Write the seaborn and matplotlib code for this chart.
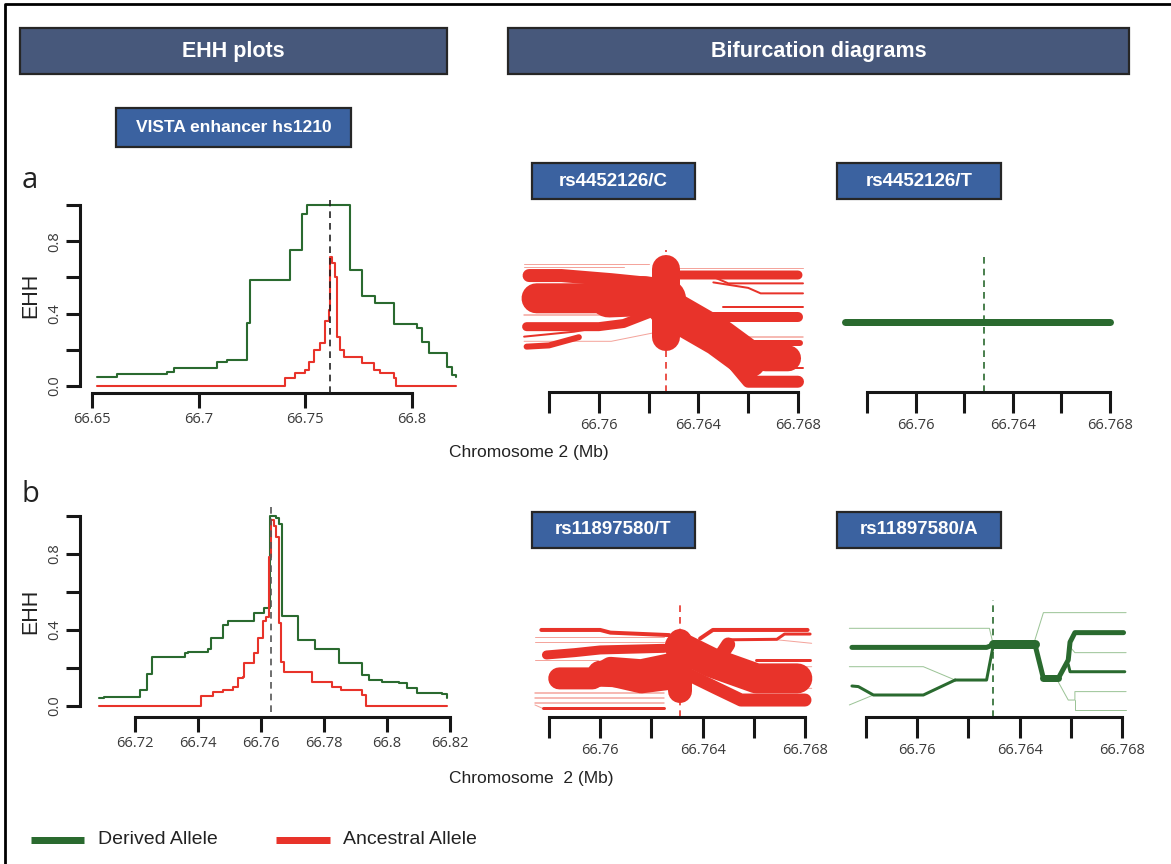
import numpy as np
import pandas as pd
import matplotlib
matplotlib.use("Agg")
import matplotlib.pyplot as plt
import seaborn as sns
from matplotlib.patches import Rectangle
from matplotlib.lines import Line2D

# ---------------- data ----------------
# EHH panel a (position Mb, EHH value after that position)
ehh_a_der_pos = [66.6523, 66.6617, 66.6852, 66.6883, 66.7086, 66.7133, 66.7227, 66.7242, 66.7430,
                 66.7484, 66.7508, 66.7708, 66.7766, 66.7828, 66.7914, 66.8023, 66.8047, 66.8078,
                 66.8164, 66.8188, 66.8208]
ehh_a_der = [0.048, 0.066, 0.079, 0.10, 0.134, 0.144, 0.35, 0.585, 0.75, 0.95, 1.0, 0.64, 0.50,
             0.457, 0.34, 0.32, 0.245, 0.18, 0.107, 0.06, 0.048]
ehh_a_anc_pos = [66.6523, 66.7406, 66.7453, 66.7500, 66.7516, 66.7539, 66.7570, 66.7594, 66.7609,
                 66.7617, 66.7625, 66.7638, 66.7648, 66.7661, 66.7680, 66.7766, 66.7820, 66.7852,
                 66.7914, 66.7927, 66.8208]
ehh_a_anc = [0.0, 0.042, 0.07, 0.088, 0.135, 0.20, 0.236, 0.36, 0.42, 0.71, 0.68, 0.60, 0.27, 0.20,
             0.16, 0.125, 0.088, 0.074, 0.042, 0.0, 0.0]
core_a = 66.7617

# EHH panel b
ehh_b_der_pos = [66.7087, 66.7100, 66.7216, 66.7237, 66.7253, 66.7358, 66.7368, 66.7432, 66.7442,
                 66.7479, 66.7495, 66.7579, 66.7611, 66.7628, 66.7647, 66.7658, 66.7666, 66.7718,
                 66.7772, 66.7847, 66.7921, 66.7942, 66.7984, 66.8037, 66.8063, 66.8095, 66.8174,
                 66.8189]
ehh_b_der = [0.04, 0.049, 0.084, 0.17, 0.26, 0.28, 0.286, 0.30, 0.356, 0.426, 0.45, 0.49, 0.514,
             1.0, 0.99, 0.96, 0.474, 0.347, 0.298, 0.225, 0.163, 0.137, 0.128, 0.12, 0.093, 0.067,
             0.063, 0.04]
ehh_b_anc_pos = [66.7087, 66.7411, 66.7447, 66.7479, 66.7511, 66.7526, 66.7542, 66.7547, 66.7579,
                 66.7589, 66.7605, 66.7616, 66.7624, 66.7632, 66.7642, 66.7649, 66.7658, 66.7663,
                 66.7674, 66.7763, 66.7826, 66.7853, 66.7921, 66.7932, 66.8189]
ehh_b_anc = [0.0, 0.053, 0.075, 0.084, 0.10, 0.146, 0.154, 0.225, 0.277, 0.356, 0.45, 0.47, 0.786,
             0.98, 0.945, 0.89, 0.435, 0.233, 0.18, 0.128, 0.10, 0.084, 0.058, 0.0, 0.0]
core_b = 66.7632

ehh_a_xticks = [66.65, 66.70, 66.75, 66.80]
ehh_a_xlabels = ["66.65", "66.7", "66.75", "66.8"]
ehh_b_xticks = [66.72, 66.74, 66.76, 66.78, 66.80, 66.82]
ehh_b_xlabels = ["66.72", "66.74", "66.76", "66.78", "66.8", "66.82"]
ehh_yticks = [0.0, 0.2, 0.4, 0.6, 0.8, 1.0]
ehh_ylabels = ["0.0", "", "0.4", "", "0.8", ""]
bif_xticks = [66.758, 66.760, 66.762, 66.764, 66.766, 66.768]
bif_xlabels = ["", "66.76", "", "66.764", "", "66.768"]

# Bifurcation diagram rs4452126/C (branch positions Mb, vertical rank, haplotype-count width)
coreC = 66.7627
bifC_x = [[coreC, coreC],
          [coreC, 66.7640, 66.7655, 66.7667, 66.7676],
          [coreC, 66.7645, 66.7660, 66.7680],
          [66.7640, 66.7646, 66.7680],
          [coreC, 66.7632, 66.7680],
          [66.7632, 66.7646, 66.7652, 66.7682],
          [66.7646, 66.7660, 66.7665, 66.7682],
          [coreC, 66.7682],
          [66.7655, 66.7681],
          [66.7665, 66.7682],
          [66.7650, 66.7682],
          [66.7660, 66.7682],
          [coreC, 66.7615, 66.7600, 66.7575],
          [coreC, 66.7605, 66.7585, 66.7572],
          [coreC, 66.7610, 66.7600, 66.7571],
          [66.7600, 66.7590, 66.7570],
          [66.7592, 66.7580, 66.7571],
          [66.7570, 66.7620],
          [66.7570, 66.7610],
          [66.7570, 66.7605],
          [coreC, 66.7605, 66.7570],
          [66.7604, 66.7618, coreC],
          [coreC, 66.7648, 66.7660]]
bifC_y = [[0.40, 0.90],
          [0.64, 0.50, 0.32, 0.246, 0.246],
          [0.60, 0.40, 0.075, 0.075],
          [0.55, 0.55, 0.55],
          [0.80, 0.854, 0.854],
          [0.84, 0.84, 0.793, 0.793],
          [0.80, 0.76, 0.72, 0.72],
          [0.905, 0.905],
          [0.355, 0.355],
          [0.173, 0.173],
          [0.62, 0.62],
          [0.40, 0.40],
          [0.66, 0.69, 0.684, 0.684],
          [0.78, 0.82, 0.85, 0.85],
          [0.62, 0.50, 0.477, 0.477],
          [0.47, 0.44, 0.404],
          [0.40, 0.34, 0.331],
          [0.934, 0.934],
          [0.915, 0.915],
          [0.56, 0.56],
          [0.45, 0.37, 0.37],
          [0.69, 0.70, 0.68],
          [0.62, 0.40, 0.24]]
bifC_n = [28, 26, 12, 10, 9, 2, 2, 1, 6, 2, 2, 1.5, 30, 13, 9, 2, 6, 1, 1, 1.5, 1, 40, 38]

# Bifurcation diagram rs4452126/T
coreT1 = 66.7628
bifT1_x = [[66.7571, 66.7680]]
bifT1_y = [[0.51, 0.51]]
bifT1_n = [7]

# Bifurcation diagram rs11897580/T
coreT2 = 66.7631
bifT2_x = [[coreT2, coreT2],
           [66.7577, 66.7600, 66.7604, 66.7627],
           [66.75745, 66.7625],
           [66.75745, 66.7625],
           [66.7579, 66.7590, 66.7600, 66.7625],
           [66.75745, 66.7599],
           [66.7584, 66.7597, 66.7604, 66.7616, 66.7627],
           [66.7604, 66.7616, 66.7627],
           [66.75745, 66.7625],
           [66.75745, 66.7625],
           [66.75745, 66.7625],
           [66.75775, 66.7625],
           [66.75745, 66.75775],
           [coreT2, 66.7643, 66.7652, 66.7661, 66.7677],
           [coreT2, 66.7645, 66.7655, 66.7661, 66.7680],
           [66.7647, 66.7650],
           [66.7639, 66.7644, 66.7681],
           [66.7650, 66.7669, 66.7672, 66.7682],
           [66.7669, 66.76826],
           [66.7661, 66.7682],
           [66.7652, 66.7661, 66.76826],
           [66.7652, 66.7661, 66.76826],
           [66.7600, 66.7614, 66.7627]]
bifT2_y = [[0.22, 0.65],
           [0.744, 0.744, 0.721, 0.70],
           [0.687, 0.687],
           [0.644, 0.644],
           [0.53, 0.55, 0.573, 0.587],
           [0.487, 0.487],
           [0.33, 0.33, 0.42, 0.40, 0.45],
           [0.33, 0.27, 0.30],
           [0.202, 0.202],
           [0.160, 0.160],
           [0.117, 0.117],
           [0.074, 0.074],
           [0.103, 0.074],
           [0.60, 0.47, 0.40, 0.33, 0.33],
           [0.40, 0.25, 0.145, 0.145, 0.145],
           [0.52, 0.62],
           [0.67, 0.744, 0.744],
           [0.66, 0.664, 0.709, 0.709],
           [0.66, 0.63],
           [0.487, 0.487],
           [0.40, 0.43, 0.43],
           [0.30, 0.245, 0.245],
           [0.37, 0.36, 0.40]]
bifT2_n = [24, 4, 1, 1, 9, 1, 22, 16, 1.5, 1.5, 1.5, 3, 1, 30, 13, 14, 4, 3, 1, 3, 1, 1, 26]

# Bifurcation diagram rs11897580/A
coreA = 66.76296
bifA_x = [[66.75745, 66.76271, 66.76296],
          [66.75735, 66.76282, 66.76296],
          [66.75735, 66.76024, 66.76148],
          [66.76148, 66.76271, 66.76296],
          [66.76148, 66.76024, 66.75829, 66.7577, 66.75745],
          [66.75829, 66.75735],
          [66.76296, 66.7646],
          [66.7646, 66.76493, 66.76551, 66.7659, 66.76597, 66.76616, 66.76806],
          [66.76493, 66.76551],
          [66.7659, 66.76597, 66.76811],
          [66.7646, 66.76493, 66.76816],
          [66.76597, 66.76616, 66.76816],
          [66.76551, 66.7659, 66.76616, 66.76616, 66.76816],
          [66.76616, 66.76616, 66.76816]]
bifA_y = [[0.595, 0.595, 0.615],
          [0.758, 0.758, 0.63],
          [0.43, 0.43, 0.316],
          [0.316, 0.316, 0.60],
          [0.316, 0.188, 0.188, 0.26, 0.265],
          [0.188, 0.103],
          [0.62, 0.62],
          [0.62, 0.33, 0.33, 0.487, 0.64, 0.721, 0.721],
          [0.33, 0.33],
          [0.45, 0.387, 0.387],
          [0.66, 0.892, 0.892],
          [0.60, 0.55, 0.55],
          [0.30, 0.145, 0.145, 0.217, 0.217],
          [0.145, 0.06, 0.06]]
bifA_n = [5, 1, 1, 3, 3, 1, 9, 5, 7, 3, 1, 1, 1, 1]

legend_labels = ["Derived Allele", "Ancestral Allele"]

# ---------------- style ----------------
sns.set_theme(style="ticks")
plt.rcParams["font.family"] = ["Liberation Sans", "DejaVu Sans"]

RED = "#e8332a"
RED_THIN = "#f4a49c"
GREEN = "#2a6a2f"
GREEN_THIN = "#9cc497"
AXC = "#161616"
TICKC = "#3a3a3a"
NUMFONT = ["Open Sans", "DejaVu Sans"]
HEADFONT = ["Liberation Sans", "DejaVu Sans"]

W, H = 1171, 864
PT = 0.72
fig = plt.figure(figsize=(W / 100, H / 100), dpi=100)
fig.patch.set_facecolor("white")


def px_axes(left, top, right, bottom):
    return fig.add_axes([left / W, 1 - bottom / H, (right - left) / W, (bottom - top) / H])


def fx(px):
    return px / W


def fy(py):
    return 1 - py / H


# border
fig.add_artist(Line2D([fx(5), fx(5), fx(1171)], [fy(864), fy(4), fy(4)], color="black", lw=2.0))

# header boxes
def box(x0, y0, x1, y1, text, face, size):
    fig.add_artist(Rectangle((fx(x0), fy(y1)), (x1 - x0) / W, (y1 - y0) / H,
                             transform=fig.transFigure, facecolor=face, edgecolor="#262626", lw=1.6))
    fig.text(fx((x0 + x1) / 2), fy((y0 + y1) / 2), text, ha="center", va="center",
             color="white", fontweight="bold", fontsize=size, family=HEADFONT)


box(20, 28, 447, 74, "EHH plots", "#47587b", 15.5)
box(508, 28, 1129, 74, "Bifurcation diagrams", "#47587b", 15.5)
box(116, 108, 351, 147, "VISTA enhancer hs1210", "#3b62a0", 12.5)
box(532, 163, 695, 199, "rs4452126/C", "#3b62a0", 13.5)
box(837, 163, 1001, 199, "rs4452126/T", "#3b62a0", 13.5)
box(532, 512, 695, 548, "rs11897580/T", "#3b62a0", 13.5)
box(837, 512, 1001, 548, "rs11897580/A", "#3b62a0", 13.5)

fig.text(fx(30), fy(180), "a", ha="center", va="center", fontsize=21, family=NUMFONT, color="#222")
fig.text(fx(30), fy(495), "b", ha="center", va="center", fontsize=21, family=NUMFONT, color="#222")


# ---------------- EHH plots ----------------
def style_ehh(ax, xticks, xlabels, left_out, bottom_out, ylab_x):
    for s in ["top", "right"]:
        ax.spines[s].set_visible(False)
    ax.spines["left"].set_position(("outward", left_out * PT))
    ax.spines["bottom"].set_position(("outward", bottom_out * PT))
    ax.spines["left"].set_bounds(0, 1)
    ax.spines["bottom"].set_bounds(xticks[0], xticks[-1])
    for s in ["left", "bottom"]:
        ax.spines[s].set_linewidth(2.2)
        ax.spines[s].set_color(AXC)
        ax.spines[s].set_capstyle("projecting")
    ax.set_xticks(xticks)
    ax.set_xticklabels(xlabels, family=NUMFONT)
    ax.set_yticks(ehh_yticks)
    ax.set_yticklabels(ehh_ylabels, rotation=90, va="center", family=NUMFONT)
    ax.tick_params(axis="x", direction="out", length=11, width=2.2, color=AXC,
                   labelsize=10.5, labelcolor=TICKC, pad=3)
    ax.tick_params(axis="y", direction="out", length=10, width=2.2, color=AXC,
                   labelsize=10.5, labelcolor=TICKC, pad=3)
    ax.set_xlabel("")
    ax.set_ylabel("EHH", fontsize=15.5, color="#222")
    ax.yaxis.set_label_coords(ylab_x, 0.5)
    ax.set_facecolor("none")


def ehh_line(ax, xs, ys, color):
    sns.lineplot(x=xs, y=ys, ax=ax, sort=False, estimator=None, color=color, lw=1.5,
                 drawstyle="steps-post", clip_on=False)


axA = px_axes(92, 205, 412, 386)
axA.set_xlim(66.65, 66.80)
axA.set_ylim(0, 1)
ehh_line(axA, ehh_a_anc_pos, ehh_a_anc, RED)
ehh_line(axA, ehh_a_der_pos, ehh_a_der, GREEN)
axA.axvline(core_a, ymin=-0.04, ymax=1.03, color="#222", lw=1.2, ls=(0, (4, 3)), clip_on=False, zorder=5)
style_ehh(axA, ehh_a_xticks, ehh_a_xlabels, 12, 7, -0.159)

axB = px_axes(135, 516, 450, 706)
axB.set_xlim(66.72, 66.82)
axB.set_ylim(0, 1)
ehh_line(axB, ehh_b_der_pos, ehh_b_der, GREEN)
ehh_line(axB, ehh_b_anc_pos, ehh_b_anc, RED)
axB.axvline(core_b, ymin=-0.03, ymax=1.06, color="#555", lw=1.2, ls=(0, (4, 3)), clip_on=False, zorder=5)
style_ehh(axB, ehh_b_xticks, ehh_b_xlabels, 55, 11, -0.298)

fig.text(fx(529), fy(453), "Chromosome 2 (Mb)", ha="center", va="center", fontsize=12.5, color="#222")
fig.text(fx(531), fy(778), "Chromosome  2 (Mb)", ha="center", va="center", fontsize=12.5, color="#222")


# ---------------- Bifurcation diagrams ----------------
def style_bif(ax):
    for s in ["top", "right", "left"]:
        ax.spines[s].set_visible(False)
    ax.spines["bottom"].set_bounds(bif_xticks[0], bif_xticks[-1])
    ax.spines["bottom"].set_linewidth(2.2)
    ax.spines["bottom"].set_color(AXC)
    ax.set_xlim(66.758, 66.768)
    ax.set_ylim(0, 1)
    ax.set_yticks([])
    ax.set_xticks(bif_xticks)
    ax.set_xticklabels(bif_xlabels, family=NUMFONT)
    ax.tick_params(axis="x", direction="out", length=15, width=2.2, color=AXC,
                   labelsize=10.5, labelcolor=TICKC, pad=4)
    ax.set_xlabel("")
    ax.set_ylabel("")
    ax.set_facecolor("none")


def draw_bif(ax, xs_list, ys_list, ns, color, thin_color):
    order = np.argsort(ns, kind="stable")
    for i in order:
        n = ns[i]
        c = color if n > 1.6 else thin_color
        sns.lineplot(x=xs_list[i], y=ys_list[i], ax=ax, sort=False, estimator=None, color=c,
                     lw=n * PT, solid_capstyle="round", solid_joinstyle="round", clip_on=False,
                     zorder=3)


def core_line(ax, x, top, color):
    ax.axvline(x, ymin=0, ymax=top, color=color, lw=1.2, ls=(0, (4, 3)), clip_on=False, zorder=2)


axC = px_axes(549, 255, 798, 392)
style_bif(axC)
core_line(axC, coreC, 1.04, RED)
draw_bif(axC, bifC_x, bifC_y, bifC_n, RED, RED_THIN)

axT1 = px_axes(867, 255, 1110, 392)
style_bif(axT1)
core_line(axT1, coreT1, 1.0, GREEN)
draw_bif(axT1, bifT1_x, bifT1_y, bifT1_n, GREEN, GREEN_THIN)

axT2 = px_axes(549, 600, 805, 717)
style_bif(axT2)
core_line(axT2, coreT2, 0.97, RED)
draw_bif(axT2, bifT2_x, bifT2_y, bifT2_n, RED, RED_THIN)

axA2 = px_axes(866, 600, 1122, 717)
style_bif(axA2)
core_line(axA2, coreA, 1.0, GREEN)
draw_bif(axA2, bifA_x, bifA_y, bifA_n, GREEN, GREEN_THIN)

# ---------------- legend ----------------
fig.add_artist(Line2D([fx(31), fx(84)], [fy(840), fy(840)], color=GREEN, lw=7 * PT,
                      solid_capstyle="butt"))
fig.text(fx(98), fy(840), legend_labels[0], ha="left", va="center", fontsize=14, color="#222")
fig.add_artist(Line2D([fx(276), fx(330)], [fy(840), fy(840)], color=RED, lw=7 * PT,
                      solid_capstyle="butt"))
fig.text(fx(343), fy(840), legend_labels[1], ha="left", va="center", fontsize=14, color="#222")

fig.savefig("out.png", dpi=100, facecolor="white")
